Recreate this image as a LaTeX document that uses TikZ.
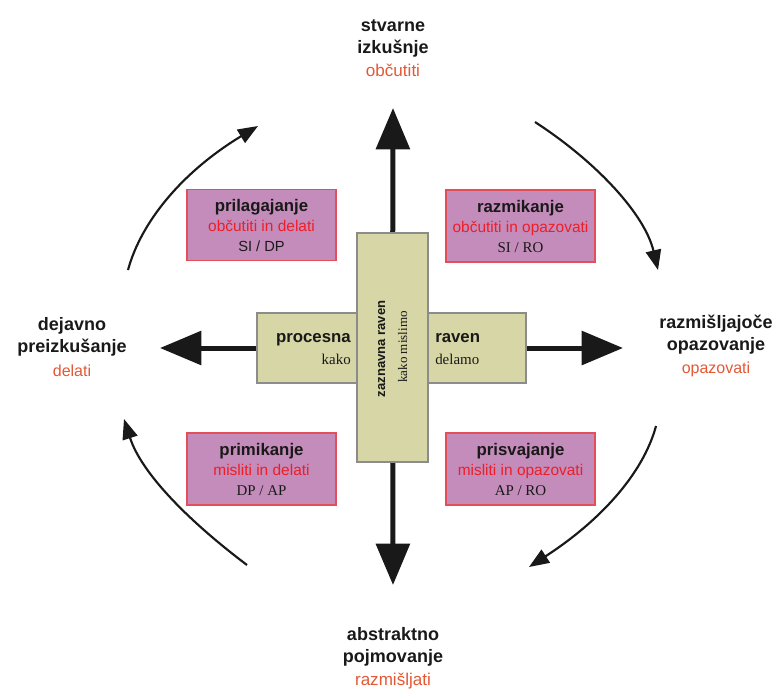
\documentclass[tikz,border=0pt]{standalone}
\usepackage{fontspec}
\setmainfont{Liberation Serif}
\setsansfont{Liberation Sans}
\usetikzlibrary{arrows.meta,backgrounds}
\definecolor{outred}{RGB}{228,88,52}
\definecolor{boxred}{RGB}{238,30,40}
\definecolor{purp}{RGB}{196,140,186}
\definecolor{purpline}{RGB}{228,78,90}
\definecolor{yel}{RGB}{214,214,166}
\definecolor{yelline}{RGB}{140,140,140}
\definecolor{ink}{RGB}{25,25,25}
\newcommand\fsz[2]{\fontsize{#1}{#2}\selectfont}
\begin{document}
\begin{tikzpicture}[x=0.75pt,y=-0.75pt,
  outer/.style={align=center, text=ink, font=\sffamily\bfseries\fsz{13.5}{16.5}, inner sep=0pt},
  mood/.style={fill=purp, draw=purpline, line width=0.8pt, minimum width=111.75pt,
     minimum height=53pt, align=center, inner sep=0pt, text=ink, font=\sffamily\fsz{11.6}{15}},
  ybox/.style={fill=yel, draw=yelline, line width=0.8pt, inner sep=0pt},
  bigarrow/.style={line width=3.75pt, draw=ink, -{Triangle[length=31pt,width=25pt]}},
  circarrow/.style={line width=1.6pt, draw=ink, -{Triangle[length=15pt,width=11.5pt]}},
  ttl/.style={font=\sffamily\bfseries\fsz{12.6}{15}, text=ink, inner sep=0pt},
  sub/.style={font=\rmfamily\fsz{11.2}{13}, text=ink, inner sep=0pt}]
\useasboundingbox (0,0) rectangle (781,690);

% outer labels
\node[outer] (top) at (393,48) {stvarne\\izkušnje\\[1pt]{\mdseries\color{outred}\fsz{12.8}{16.5}občutiti}};
\node[outer] (bot) at (393,658) {abstraktno\\pojmovanje\\[1pt]{\mdseries\color{outred}\fsz{12.8}{16.5}razmišljati}};
\node[outer] (left) at (72,347) {dejavno\\preizkušanje\\[1pt]{\mdseries\color{outred}\fsz{12}{16.5}delati}};
\node[outer] (right) at (716,346) {razmišljajoče\\opazovanje\\[1pt]{\mdseries\color{outred}\fsz{12}{16.5}opazovati}};

% tips
\coordinate (topTip) at (393,108);
\coordinate (botTip) at (393,585);
\coordinate (leftTip) at (160,348);
\coordinate (rightTip) at (623,348);

% central boxes
\node[ybox, minimum width=201.75pt, minimum height=52.5pt] (hbox) at (391.5,348) {};
\node[ybox, minimum width=53.25pt, minimum height=171.75pt] (vbox) at (392.5,347.5) {};

\node[ttl, anchor=base east] (proc) at (351,342) {procesna};
\node[sub, anchor=base east] (kako) at (351,364) {kako};
\node[ttl, anchor=base west] (raven) at (435,342) {raven};
\node[sub, anchor=base west] (delamo) at (435,364) {delamo};
\node[ttl, font=\sffamily\bfseries\fsz{9.8}{11}, rotate=90, anchor=base] (zazn) at (385,349) {zaznavna raven};
\node[sub, font=\rmfamily\fsz{9.8}{11}, rotate=90, anchor=base] (kakom) at (407,347) {kako mislimo};

\begin{scope}[on background layer]
\draw[bigarrow] (vbox.center) -- (topTip);
\draw[bigarrow] (vbox.center) -- (botTip);
\draw[bigarrow] (hbox.center) -- (leftTip);
\draw[bigarrow] (hbox.center) -- (rightTip);
\end{scope}

% quadrant boxes
\node[mood] (tl) at (261.5,225) {{\bfseries\fsz{12.6}{15}prilagajanje}\\{\color{boxred}občutiti in delati}\\{\fsz{11}{15}SI / DP}};
\node[mood, minimum height=54pt] (tr) at (520.5,226) {{\bfseries\fsz{12.6}{15}razmikanje}\\{\color{boxred}občutiti in opazovati}\\{\rmfamily\fsz{11.2}{15}SI / RO}};
\node[mood, minimum height=54pt] (bl) at (261.5,469) {{\bfseries\fsz{12.6}{15}primikanje}\\{\color{boxred}misliti in delati}\\{\rmfamily\fsz{11.2}{15}DP / AP}};
\node[mood, minimum height=54pt] (br) at (520.5,469) {{\bfseries\fsz{12.6}{15}prisvajanje}\\{\color{boxred}misliti in opazovati}\\{\rmfamily\fsz{11.2}{15}AP / RO}};

% circular arrows
\coordinate (tlS) at (128,270); \coordinate (tlE) at (258,126);
\coordinate (trS) at (535,122); \coordinate (trE) at (658,270);
\coordinate (blS) at (247,565); \coordinate (blE) at (124,419);
\coordinate (brS) at (656,426); \coordinate (brE) at (529,567);
\draw[circarrow] (tlS) .. controls (141,222) and (182,172) .. (tlE);
\draw[circarrow] (trS) .. controls (598,163) and (645,215) .. (trE);
\draw[circarrow] (blS) .. controls (186,519) and (141,472) .. (blE);
\draw[circarrow] (brS) .. controls (643,474) and (600,521) .. (brE);
\end{tikzpicture}
\end{document}
